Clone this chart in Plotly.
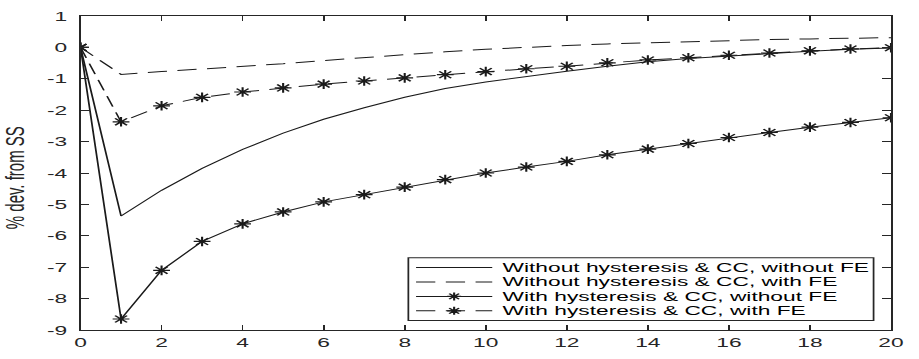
import plotly.graph_objects as go

# ---------------- data ----------------
periods = list(range(21))
no_hyst_no_fe = [0, -5.37, -4.55, -3.85, -3.25, -2.73, -2.29, -1.92, -1.59, -1.31, -1.10,
                 -0.92, -0.76, -0.60, -0.46, -0.35, -0.27, -0.19, -0.12, -0.06, -0.02]
no_hyst_fe = [0, -0.86, -0.77, -0.69, -0.61, -0.52, -0.42, -0.32, -0.23, -0.14, -0.06,
              0.01, 0.06, 0.11, 0.15, 0.19, 0.22, 0.25, 0.27, 0.29, 0.31]
hyst_no_fe = [0, -8.65, -7.10, -6.18, -5.62, -5.24, -4.92, -4.69, -4.45, -4.21, -4.00,
              -3.81, -3.63, -3.42, -3.24, -3.06, -2.87, -2.71, -2.54, -2.39, -2.24]
hyst_fe = [0, -2.37, -1.86, -1.59, -1.42, -1.29, -1.17, -1.07, -0.97, -0.87, -0.77,
           -0.68, -0.60, -0.49, -0.40, -0.33, -0.25, -0.18, -0.11, -0.05, -0.01]
series_names = ["Without hysteresis & CC, without FE",
                "Without hysteresis & CC, with FE",
                "With hysteresis & CC, without FE",
                "With hysteresis & CC, with FE"]
x_tickvals = list(range(0, 21, 2))
x_ticktext = [str(v) for v in x_tickvals]
y_tickvals = list(range(-9, 2))
y_ticktext = [str(v) for v in y_tickvals]   # hyphen minus as in source
y_title = "% dev. from SS"

# ---------------- style ----------------
W0, H0 = 525, 359
SX = 919 / W0
AX = "#262626"
LC = "#1a1a1a"
FONT = "Liberation Sans, Arial, Helvetica, sans-serif"
DASH = "11px,6px"

fig = go.Figure()
styles = [
    dict(dash="solid", marker=False),
    dict(dash=DASH, marker=False),
    dict(dash="solid", marker=True),
    dict(dash=DASH, marker=True),
]
for name, ys, st in zip(series_names, [no_hyst_no_fe, no_hyst_fe, hyst_no_fe, hyst_fe], styles):
    fig.add_trace(go.Scatter(
        x=periods, y=ys, name=name,
        mode="lines+markers" if st["marker"] else "lines",
        line=dict(color=LC, width=1, dash=st["dash"]),
        marker=dict(symbol="asterisk-open", size=8, color=LC, line=dict(color=LC, width=1.2)),
        showlegend=False,
    ))

axis_common = dict(
    showline=True, linecolor=AX, linewidth=1, mirror="ticks",
    ticks="inside", ticklen=5, tickwidth=1, tickcolor=AX,
    showgrid=False, zeroline=False,
    tickfont=dict(family=FONT, size=13, color=AX),
)
fig.update_xaxes(range=[0, 20], tickvals=x_tickvals, ticktext=x_ticktext, **axis_common)
fig.update_yaxes(range=[-9, 1], tickvals=y_tickvals, ticktext=y_ticktext,
                 ticklabelstandoff=4, **axis_common)

# ---------------- manual legend (MATLAB style) ----------------
leg_x0, leg_x1 = 8.09, 19.57
leg_y0, leg_y1 = -6.70, -8.70
row_y = [-7.01, -7.47, -7.93, -8.39]
samp_x0, samp_x1, samp_mid, text_x = 8.28, 10.16, 9.22, 10.33
fig.add_shape(type="rect", x0=leg_x0, x1=leg_x1, y0=leg_y0, y1=leg_y1,
              line=dict(color=AX, width=1), fillcolor="white", layer="above")
for ry, st, name in zip(row_y, styles, series_names):
    fig.add_shape(type="line", x0=samp_x0, x1=samp_x1, y0=ry, y1=ry,
                  line=dict(color=LC, width=1, dash=st["dash"]), layer="above")
    if st["marker"]:
        r = 4
        path = (f"M{-r},0L{r},0M0,{-r}L0,{r}"
                f"M{-r*0.7},{-r*0.7}L{r*0.7},{r*0.7}M{-r*0.7},{r*0.7}L{r*0.7},{-r*0.7}")
        fig.add_shape(type="path", xsizemode="pixel", ysizemode="pixel",
                      xanchor=samp_mid, yanchor=ry, path=path,
                      line=dict(color=LC, width=1.2), layer="above")
    fig.add_annotation(x=text_x, y=ry, xref="x", yref="y", text=name, showarrow=False,
                       xanchor="left", yanchor="middle",
                       font=dict(family=FONT, size=13, color="#000"))

fig.add_annotation(x=-0.081, y=0.485, xref="paper", yref="paper", text=y_title,
                   textangle=-90, showarrow=False, xanchor="center", yanchor="middle",
                   font=dict(family=FONT, size=15, color=AX))

fig.update_layout(
    width=W0, height=H0,
    margin=dict(l=46, r=10, t=9, b=24),
    paper_bgcolor="white", plot_bgcolor="white",
    showlegend=False,
)

post = ("var gd=document.getElementById('{plot_id}');"
        "document.documentElement.style.margin='0';document.body.style.margin='0';"
        "document.body.style.overflow='hidden';"
        "gd.style.transformOrigin='0 0';gd.style.transform='scale(%.5f,1)';" % SX)
fig.write_html("out.html", config={"displayModeBar": False, "responsive": False},
               post_script=post)
